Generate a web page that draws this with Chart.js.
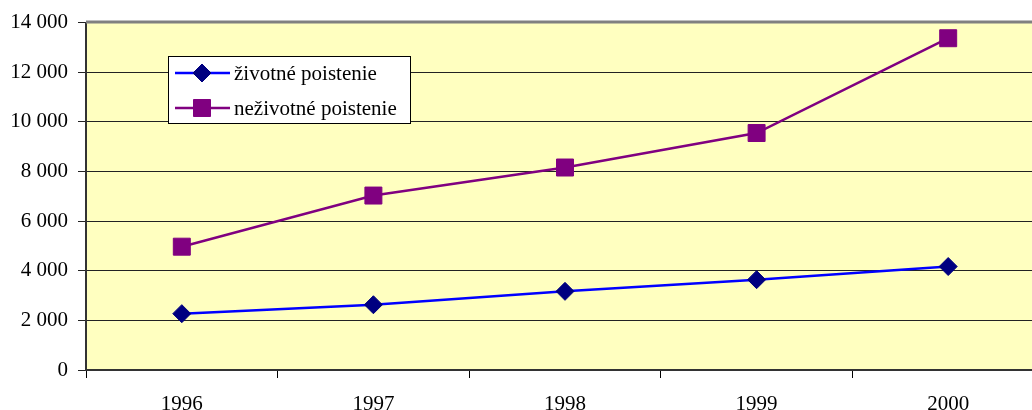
<!DOCTYPE html>
<html>
<head>
<meta charset="utf-8">
<script src="https://cdn.jsdelivr.net/npm/chart.js@4/dist/chart.umd.min.js"></script>
<style>
    html, body { margin: 0; padding: 0; background: #fff; overflow: hidden; }
    #wrap { width: 1032px; height: 410px; }
</style>
</head>
<body>
<div id="wrap"><canvas id="poistenie" width="1032" height="410"></canvas></div>
<script>
const years = ['1996', '1997', '1998', '1999', '2000'];
const zivotne = [2270, 2630, 3170, 3640, 4170];
const nezivotne = [4970, 7030, 8160, 9550, 13370];
const yMax = 14000;
const yStep = 2000;

const serif = "'Liberation Serif', 'Times New Roman', Times, serif";

// thousands with a space: 14 000
function formatNum(v) {
    return String(v).replace(/\B(?=(\d{3})+(?!\d))/g, ' ');
}

// the plot runs a little past the right edge of the canvas
const cutRight = {
    id: 'cutRight',
    afterLayout(chart) {
        const extra = 12;
        const xs = chart.scales.x;
        xs.right += extra;
        xs.width += extra;
        xs.configure();
        chart.chartArea.right += extra;
        chart.chartArea.width += extra;
    }
};

// yellow plot background + grey top frame
const plotArea = {
    id: 'plotArea',
    beforeDraw(chart) {
        const { ctx, chartArea: a } = chart;
        ctx.save();
        ctx.fillStyle = '#FFFFC0';
        ctx.fillRect(a.left, a.top, a.right - a.left, a.bottom - a.top);
        ctx.restore();
    },
    afterDraw(chart) {
        const { ctx, chartArea: a } = chart;
        ctx.save();
        ctx.strokeStyle = '#808080';
        ctx.lineWidth = 3;
        ctx.beginPath();
        ctx.moveTo(a.left, a.top - 0.5);
        ctx.lineTo(a.right, a.top - 0.5);
        ctx.stroke();
        ctx.restore();
    }
};

function marker(ctx, style, x, y, r) {
    ctx.beginPath();
    if (style === 'rectRot') {
        ctx.moveTo(x, y - r);
        ctx.lineTo(x + r, y);
        ctx.lineTo(x, y + r);
        ctx.lineTo(x - r, y);
    } else {
        const s = r * Math.SQRT1_2;
        ctx.rect(x - s, y - s, 2 * s, 2 * s);
    }
    ctx.closePath();
    ctx.fill();
    ctx.stroke();
}

// boxed legend sitting inside the plot
const boxLegend = {
    id: 'boxLegend',
    afterDraw(chart) {
        const ctx = chart.ctx;
        const box = { x: 168, y: 56, w: 242, h: 67 };
        ctx.save();
        ctx.fillStyle = '#ffffff';
        ctx.fillRect(box.x, box.y, box.w, box.h);
        ctx.strokeStyle = '#000000';
        ctx.lineWidth = 1;
        ctx.strokeRect(box.x + 0.5, box.y + 0.5, box.w, box.h);
        chart.data.datasets.forEach((ds, i) => {
            const y = 73 + i * 35;
            ctx.strokeStyle = ds.borderColor;
            ctx.lineWidth = ds.borderWidth;
            ctx.beginPath();
            ctx.moveTo(175, y);
            ctx.lineTo(230, y);
            ctx.stroke();
            ctx.fillStyle = ds.pointBackgroundColor;
            ctx.strokeStyle = ds.pointBorderColor;
            ctx.lineWidth = ds.pointBorderWidth;
            marker(ctx, ds.pointStyle, 202, y, ds.pointRadius);
            ctx.fillStyle = '#000000';
            ctx.font = '21px ' + serif;
            ctx.textBaseline = 'middle';
            ctx.fillText(ds.label, 234, y + 1);
        });
        ctx.restore();
    }
};

new Chart(document.getElementById('poistenie'), {
    type: 'line',
    data: {
        labels: years,
        datasets: [{
            label: 'životné poistenie',
            data: zivotne,
            borderColor: '#0000FF',
            borderWidth: 2.5,
            pointStyle: 'rectRot',
            pointRadius: 9,
            pointBackgroundColor: '#000080',
            pointBorderColor: '#000080',
            pointBorderWidth: 1,
            tension: 0
        }, {
            label: 'neživotné poistenie',
            data: nezivotne,
            borderColor: '#800080',
            borderWidth: 2.5,
            pointStyle: 'rect',
            pointRadius: 12,
            pointBackgroundColor: '#800080',
            pointBorderColor: '#800080',
            pointBorderWidth: 1,
            tension: 0
        }]
    },
    options: {
        responsive: false,
        animation: false,
        layout: {
            autoPadding: false,
            padding: { top: 20, right: 0, left: 0, bottom: 0 }
        },
        plugins: {
            legend: { display: false },
            tooltip: { enabled: false }
        },
        scales: {
            x: {
                offset: true,
                grid: {
                    offset: true,
                    drawOnChartArea: false,
                    drawTicks: true,
                    tickLength: 8,
                    color: '#000000',
                    lineWidth: 1
                },
                border: { color: '#333333', width: 2 },
                ticks: {
                    color: '#000000',
                    font: { family: serif, size: 21 },
                    padding: 14,
                    maxRotation: 0
                },
                afterFit(scale) { scale.height = 40; }
            },
            y: {
                min: 0,
                max: yMax,
                grid: {
                    color: '#222222',
                    lineWidth: 1,
                    tickLength: 8
                },
                border: { color: '#333333', width: 2 },
                ticks: {
                    stepSize: yStep,
                    color: '#000000',
                    font: { family: serif, size: 21 },
                    padding: 10,
                    callback: v => formatNum(v)
                },
                afterFit(scale) { scale.width = 86; }
            }
        }
    },
    plugins: [cutRight, plotArea, boxLegend]
});
</script>
</body>
</html>
